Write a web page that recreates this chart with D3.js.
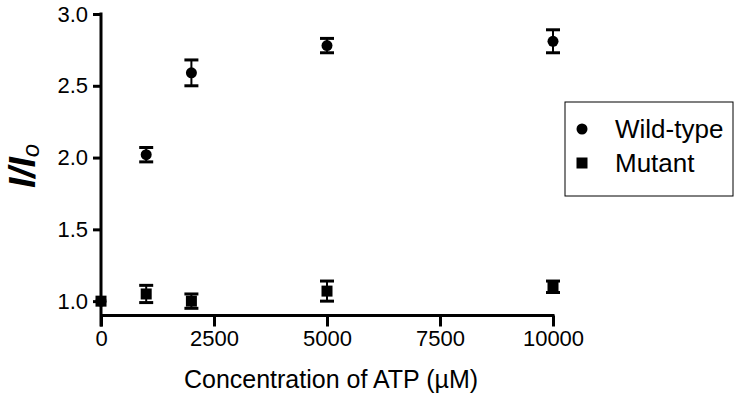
<!DOCTYPE html>
<html>
<head>
<meta charset="utf-8">
<script src="https://cdn.jsdelivr.net/npm/d3@7"></script>
<style>
  body { margin: 0; background: #fff; }
  svg text { font-family: Arial, "Liberation Sans", sans-serif; fill: #000; }
</style>
</head>
<body>
<svg id="chart" width="741" height="401"></svg>
<script>
// concentration of ATP (uM)
const concentrations = [0, 1000, 2000, 5000, 10000];
const wildType = [1.00, 2.02, 2.59, 2.78, 2.81];
const wildTypeErr = [0.00, 0.05, 0.09, 0.05, 0.08];
const mutant = [1.00, 1.05, 1.00, 1.07, 1.10];
const mutantErr = [0.00, 0.06, 0.05, 0.07, 0.04];
const xTicks = [0, 2500, 5000, 7500, 10000];
const yTicks = [1.0, 1.5, 2.0, 2.5, 3.0];
const seriesNames = ["Wild-type", "Mutant"];

const svg = d3.select("#chart");

const MARGIN = {top: 14, left: 101};
const xScale = d3.scaleLinear().domain([0, 10000]).range([101, 553]);
const yScale = d3.scaleLinear().domain([0.9, 3.0]).range([315.5, 14]);

// axes
const yAxis = svg.append("g")
  .attr("transform", "translate(" + MARGIN.left + ",0)")
  .call(d3.axisLeft(yScale).tickValues(yTicks).tickFormat(d3.format(".1f")).tickSize(8).tickSizeOuter(0).tickPadding(5));
const xAxis = svg.append("g")
  .attr("transform", "translate(0," + yScale(0.9) + ")")
  .call(d3.axisBottom(xScale).tickValues(xTicks).tickFormat(d3.format("d")).tickSize(11).tickSizeOuter(0).tickPadding(4));

[yAxis, xAxis].forEach(ax => {
  ax.select(".domain").attr("stroke", "#000").attr("stroke-width", 3);
  ax.selectAll(".tick line").attr("stroke", "#000").attr("stroke-width", 3);
  ax.selectAll(".tick text").style("font-size", "22px");
});
// y axis line runs from top tick down past the x axis to the 0 tick
yAxis.select(".domain").attr("d", "M0," + (yScale(3.0) - 1.5) + "V" + (yScale(0.9) + 11));
xAxis.select(".domain").attr("d", "M" + xScale(0) + ",0H" + (xScale(10000) + 1.5));

// error bars + markers
function drawSeries(values, errs, shape) {
  const g = svg.append("g");
  concentrations.forEach((c, i) => {
    const x = xScale(c);
    const yTop = yScale(values[i] + errs[i]);
    const yBot = yScale(values[i] - errs[i]);
    if (errs[i] > 0) {
      g.append("line").attr("x1", x).attr("x2", x).attr("y1", yTop).attr("y2", yBot)
        .attr("stroke", "#000").attr("stroke-width", 2);
      [yTop, yBot].forEach(y => g.append("line")
        .attr("x1", x - 7).attr("x2", x + 7).attr("y1", y).attr("y2", y)
        .attr("stroke", "#000").attr("stroke-width", 3));
    }
    const y = yScale(values[i]);
    if (shape === "circle") {
      g.append("circle").attr("cx", x).attr("cy", y).attr("r", 5.5).attr("fill", "#000");
    } else {
      g.append("rect").attr("x", x - 5.5).attr("y", y - 5.5).attr("width", 11).attr("height", 11).attr("fill", "#000");
    }
  });
}
drawSeries(wildType, wildTypeErr, "circle");
drawSeries(mutant, mutantErr, "square");

// legend
const legend = svg.append("g");
legend.append("rect")
  .attr("x", 565).attr("y", 102).attr("width", 168).attr("height", 94)
  .attr("fill", "#fff").attr("stroke", "#000").attr("stroke-width", 1);
legend.append("circle").attr("cx", 582).attr("cy", 129).attr("r", 5.5).attr("fill", "#000");
legend.append("rect").attr("x", 576.5).attr("y", 157.5).attr("width", 11).attr("height", 11).attr("fill", "#000");
legend.selectAll("text.leg").data(seriesNames).enter().append("text")
  .attr("class", "leg")
  .attr("x", 615).attr("y", (d, i) => 138 + i * 34)
  .style("font-size", "26px")
  .text(d => d);

// axis titles
svg.append("text")
  .attr("x", xScale(5000) + 4).attr("y", 388)
  .attr("text-anchor", "middle")
  .style("font-size", "25px")
  .text("Concentration of ATP (\u00b5M)");

const yTitle = svg.append("text")
  .attr("transform", "translate(35,166) rotate(-90)")
  .attr("text-anchor", "middle")
  .style("font-size", "37px")
  .style("font-style", "italic")
  .style("font-weight", "bold");
yTitle.append("tspan").text("I/I");
yTitle.append("tspan").attr("dy", 4).style("font-size", "24px").style("font-weight", "normal").text("o");
</script>
</body>
</html>
